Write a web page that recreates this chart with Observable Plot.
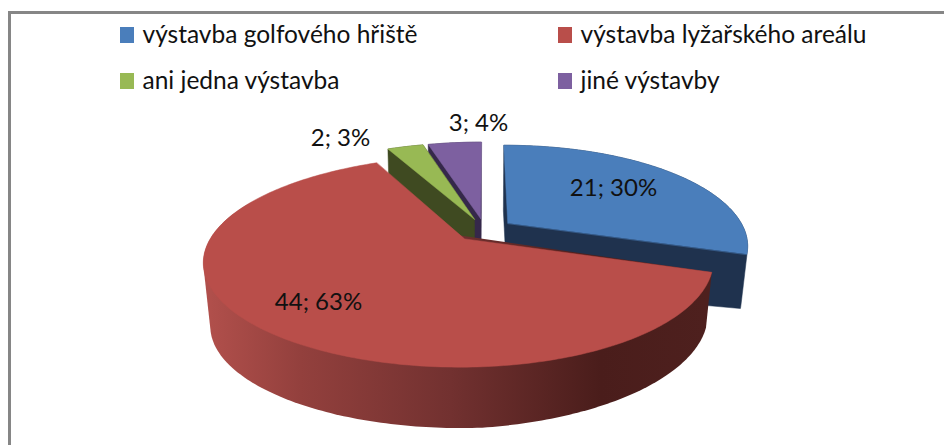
<!DOCTYPE html>
<html><head><meta charset="utf-8">
<script src="https://cdn.jsdelivr.net/npm/d3@7"></script>
<script src="https://cdn.jsdelivr.net/npm/@observablehq/plot@0.6"></script>
<style>html,body{margin:0;padding:0;background:#fff}svg{display:block}</style>
</head><body>
<div id="chart"></div>
<script>
const categories = ["výstavba golfového hřiště","výstavba lyžařského areálu","ani jedna výstavba","jiné výstavby"];
const counts = [21,44,2,3];
const percentLabels = ["30%","63%","3%","4%"];
const topColors = ["#4a7ebb","#b94e4a","#98b954","#7d60a0"];
const wallColors = ["#1f324e","#4c1e1c","#3f4a21","#35284a"];
const redWallStops = [[210,"#b04f4b"],[300,"#93403d"],[450,"#723130"],[600,"#4a1d1b"],[705,"#4e201e"]];

// projection of the tilted, exploded pie
const W=944,H=445;
const pivot=[484,229.5], R=249, Ry=97, k=0.21, explode=0.12, thick=65, shrink=0.024;
const total=d3.sum(counts);
let a=0;
const slices=categories.map((c,i)=>{const s=a;a+=counts[i]/total*2*Math.PI;return {i,c,start:s,end:a,mid:(s+a)/2};});
function pt(sl,r,t,bottom){
  const u=explode*Math.sin(sl.mid)+r*Math.sin(t), v=-(explode*Math.cos(sl.mid)+r*Math.cos(t));
  const den=1-k*v+(bottom?shrink:0);
  const warp=0.978-0.022*u;
  const th=thick*(u>0?1-0.15*u:1);
  return {x:pivot[0]+R*warp*u/den, y:pivot[1]+(bottom?th:0)+Ry*v/den};
}
function arc(sl,bottom,t0=sl.start,t1=sl.end){
  const n=Math.max(8,Math.round((t1-t0)*60)),out=[];
  for(let j=0;j<=n;j++)out.push(pt(sl,1,t0+(t1-t0)*j/n,bottom));
  return out;
}
// silhouette of an extruded part: the convex hull of its top and bottom rims
function hull(pts){
  return d3.polygonHull(pts.map(p=>[p.x,p.y])).map(([x,y])=>({x,y}));
}
const polys=[];
function add(id,fill,pts){pts.forEach(p=>polys.push({id,fill,x:p.x,y:p.y}));}
let pid=0;
for(const idx of [0,3,2]){
  const sl=slices[idx];
  add(pid++,wallColors[idx],hull([pt(sl,0,0,false),pt(sl,0,0,true),...arc(sl,false),...arc(sl,true)]));
  add(pid++,topColors[idx],[pt(sl,0,0,false),...arc(sl,false)]);
}
const red=slices[1];
const frontEnd=Math.PI*1.62;
const redWall=hull([...arc(red,false,red.start,frontEnd),...arc(red,true,red.start,frontEnd)]);
const redTop=[pt(red,0,0,false),...arc(red,false)];

const labelPos=[[613,188],[318,302],[340,138],[478,123]];
const labels=categories.map((c,i)=>({t:`${counts[i]}; ${percentLabels[i]}`,x:labelPos[i][0],y:labelPos[i][1]}));
const legendX=[120,558], legendY=[35,81];
const legend=categories.map((c,i)=>({c,fill:topColors[i],x:legendX[i%2],y:legendY[i>>1]}));
const font="Lato, Carlito, sans-serif";

function gradientDefs(){
  const defs=d3.create("svg:defs");
  const g=defs.append("linearGradient").attr("id","redWall").attr("gradientUnits","userSpaceOnUse")
    .attr("x1",redWallStops[0][0]).attr("x2",redWallStops[redWallStops.length-1][0]).attr("y1",0).attr("y2",0);
  const span=redWallStops[redWallStops.length-1][0]-redWallStops[0][0];
  redWallStops.forEach(([x,c])=>g.append("stop").attr("offset",(x-redWallStops[0][0])/span).attr("stop-color",c));
  return defs.node();
}

const chart=Plot.plot({
  width:W,height:H,margin:0,
  x:{domain:[0,W],range:[0,W],axis:null},
  y:{domain:[0,H],range:[0,H],axis:null},
  color:{type:"identity"},
  style:{background:"#fff",fontFamily:font},
  marks:[
    gradientDefs,
    Plot.rect([{}],{x1:()=>9.5,x2:()=>W+10,y1:()=>12.5,y2:()=>H+10,fill:"#fff",stroke:"#868686",strokeWidth:3}),
    Plot.line(polys,{x:"x",y:"y",z:"id",fill:"fill",stroke:"fill",strokeWidth:0.5,curve:"linear-closed"}),
    Plot.line(redWall,{x:"x",y:"y",fill:"url(#redWall)",stroke:"none",curve:"linear-closed"}),
    Plot.line(redTop,{x:"x",y:"y",fill:topColors[1],stroke:topColors[1],strokeWidth:0.5,curve:"linear-closed"}),
    Plot.text(labels,{x:"x",y:"y",text:"t",fontSize:24,fill:"#111",textAnchor:"middle",fontFamily:font}),
    Plot.rect(legend,{x1:"x",x2:d=>d.x+14,y1:d=>d.y-8,y2:d=>d.y+8,fill:"fill"}),
    Plot.text(legend,{x:d=>d.x+22,y:"y",text:"c",fontSize:24.5,fill:"#111",textAnchor:"start",fontFamily:font})
  ]
});
document.getElementById("chart").append(chart);
</script>
</body></html>
